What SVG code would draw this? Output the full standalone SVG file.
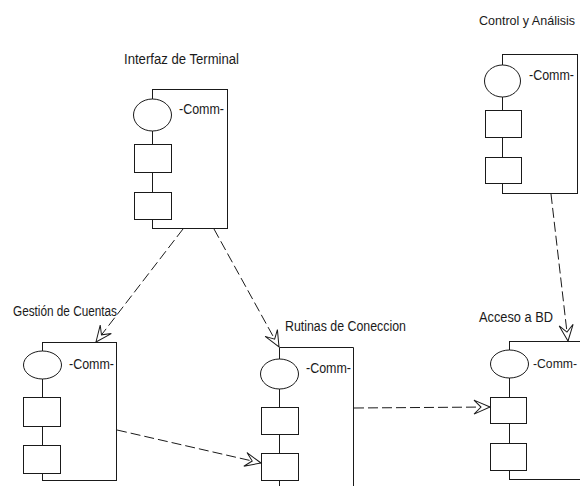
<svg xmlns="http://www.w3.org/2000/svg" width="580" height="486" viewBox="0 0 580 486">
  <style>
    .box { fill: none; stroke: #1a1a1a; stroke-width: 1; }
    .part { fill: #fff; stroke: #1a1a1a; stroke-width: 1; }
    .label { font-family: "Liberation Sans", Arial, sans-serif; font-size: 14px; fill: #1a1a1a; }
    .edge { font-size: 13px; }
    .dep { fill: none; stroke: #1a1a1a; stroke-width: 1; stroke-dasharray: 10 4; marker-end: url(#open); }
  </style>
  <defs>
    <marker id="open" viewBox="-18 -9 20 18" refX="0" refY="0" markerWidth="20" markerHeight="18" markerUnits="userSpaceOnUse" orient="auto">
      <path d="M0,0 L-16,-7 L-9,0 L-16,7 Z" fill="#fff" stroke="#1a1a1a" stroke-width="1" stroke-dasharray="none"/>
    </marker>
  </defs>
  <rect width="580" height="486" fill="#fff"/>

  <!-- Interfaz de Terminal -->
  <g id="interfaz">
    <text class="label" x="124" y="64" textLength="115" lengthAdjust="spacingAndGlyphs">Interfaz de Terminal</text>
    <rect class="box" x="152.5" y="89.5" width="75" height="139"/>
    <line class="box" x1="152.5" y1="131" x2="152.5" y2="228"/>
    <ellipse class="part" cx="152.5" cy="115" rx="19" ry="16"/>
    <rect class="part" x="134.5" y="144.5" width="37" height="28"/>
    <rect class="part" x="134.5" y="192.5" width="37" height="27"/>
    <text class="label" x="179" y="114" textLength="45" lengthAdjust="spacingAndGlyphs">-Comm-</text>
  </g>

  <!-- Control y Análisis -->
  <g id="control">
    <text class="label edge" x="479" y="25" textLength="96" lengthAdjust="spacingAndGlyphs">Control y Análisis</text>
    <rect class="box" x="502.5" y="54.5" width="75" height="139"/>
    <ellipse class="part" cx="502.5" cy="81" rx="18" ry="16"/>
    <rect class="part" x="485.5" y="110.5" width="36" height="27"/>
    <rect class="part" x="485.5" y="157.5" width="36" height="26"/>
    <text class="label" x="529" y="80" textLength="45" lengthAdjust="spacingAndGlyphs">-Comm-</text>
  </g>

  <!-- Gestión de Cuentas -->
  <g id="gestion">
    <text class="label" x="13" y="316" textLength="104" lengthAdjust="spacingAndGlyphs">Gestión de Cuentas</text>
    <rect class="box" x="42.5" y="342.5" width="74" height="138"/>
    <ellipse class="part" cx="42.5" cy="365" rx="19" ry="14"/>
    <rect class="part" x="23.5" y="397.5" width="37" height="29"/>
    <rect class="part" x="23.5" y="445.5" width="37" height="28"/>
    <text class="label" x="69" y="369" textLength="45" lengthAdjust="spacingAndGlyphs">-Comm-</text>
  </g>

  <!-- Rutinas de Coneccion -->
  <g id="rutinas">
    <text class="label" x="285" y="331" textLength="121" lengthAdjust="spacingAndGlyphs">Rutinas de Coneccion</text>
    <path class="box" d="M279.5,490 V347.5 H353.5 V490"/>
    <ellipse class="part" cx="279.5" cy="374" rx="19" ry="15"/>
    <rect class="part" x="261.5" y="407.5" width="37" height="27"/>
    <rect class="part" x="261.5" y="453.5" width="37" height="27"/>
    <text class="label" x="306" y="373" textLength="45" lengthAdjust="spacingAndGlyphs">-Comm-</text>
  </g>

  <!-- Acceso a BD (its right side runs past the canvas edge) -->
  <g id="acceso">
    <text class="label" x="479" y="322" textLength="74" lengthAdjust="spacingAndGlyphs">Acceso a BD</text>
    <rect class="box" x="509.5" y="341.5" width="80" height="138"/>
    <ellipse class="part" cx="509.5" cy="364" rx="19" ry="14"/>
    <rect class="part" x="490.5" y="397.5" width="36" height="26"/>
    <rect class="part" x="490.5" y="443.5" width="36" height="27"/>
    <text class="label" x="533" y="368" style="font-size:12.5px" textLength="44" lengthAdjust="spacingAndGlyphs">-Comm-</text>
  </g>

  <!-- dependencies -->
  <g id="connectors">
    <line class="dep" x1="183" y1="229" x2="96" y2="342"/>
    <line class="dep" x1="214" y1="229" x2="279" y2="347"/>
    <line class="dep" x1="551" y1="194" x2="568" y2="341"/>
    <line class="dep" x1="117" y1="430" x2="261" y2="463"/>
    <line class="dep" x1="354" y1="408" x2="490" y2="407"/>
  </g>
</svg>
